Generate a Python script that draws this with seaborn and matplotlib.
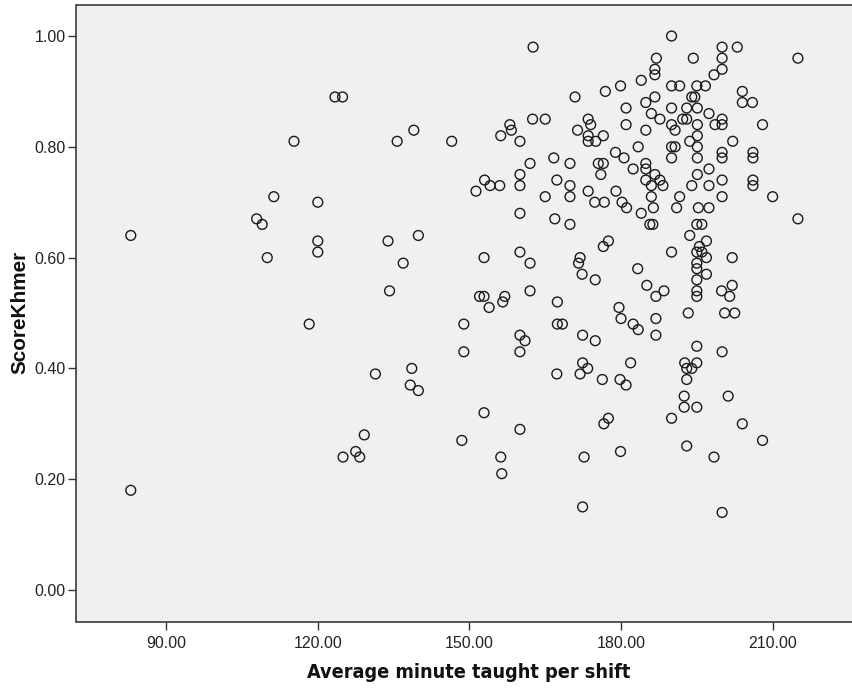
import matplotlib
matplotlib.use("Agg")
import matplotlib.pyplot as plt
from matplotlib import font_manager
import seaborn as sns
import pandas as pd

# Average minute taught per shift (x) and ScoreKhmer (y)
minutes = [
    123.4, 124.9, 115.3, 135.7, 139.0, 111.3, 120.0, 107.9, 109.0, 83.0, 120.0, 120.0, 133.9, 139.9,
    110.0, 136.9, 134.2, 118.3, 131.4, 138.6, 138.3, 139.9, 129.2, 127.5, 125.0, 128.3, 83.0,
    146.5, 162.6, 170.9, 176.9, 179.9, 184.0, 181.0, 181.0, 183.4, 162.5, 165.0, 158.0, 158.3, 156.2,
    160.0, 173.5, 174.0, 171.4, 173.5, 176.5, 173.5, 175.0, 178.9, 180.6, 182.4, 166.7, 169.9, 162.0,
    175.5, 176.5, 176.0, 160.0, 160.0, 153.0, 154.1, 156.0, 151.3, 167.3, 169.9, 169.9, 165.0, 173.5,
    179.0, 174.8, 176.7, 180.2, 181.1, 184.0, 160.0, 166.9,
    169.9, 177.5, 176.5, 152.9, 160.0, 162.0, 171.9, 171.6, 172.3, 174.9, 183.3, 152.0, 152.9, 157.0,
    156.6, 153.9, 162.0, 167.4, 179.6, 180.0, 182.4, 183.4, 148.9, 167.4, 168.4, 172.4, 174.9, 160.0,
    161.0, 148.9, 160.0, 172.4, 173.4, 171.9, 167.3, 176.3, 179.8, 181.0, 181.9, 152.9, 177.5,
    160.0, 148.5, 156.2, 156.4, 176.6, 179.9, 172.7, 172.4,
    190.0, 200.0, 203.0, 215.0, 187.0, 194.3, 200.0, 200.0, 198.4, 186.7, 186.7, 190.0, 191.6, 195.0,
    196.7, 194.0, 194.6, 204.0, 204.0, 206.0, 186.7, 184.9, 190.0, 193.0, 195.1, 186.0, 187.7, 192.2,
    193.0, 197.4, 200.0, 195.1, 198.6, 200.0, 208.0, 190.0, 184.9, 190.7, 195.1, 202.1, 193.6, 190.0,
    190.7, 195.1, 200.0, 200.0, 206.1, 206.1, 195.1, 190.0, 184.9, 184.9, 186.7, 187.7, 184.9, 186.0,
    188.3, 197.4, 195.1, 194.0, 197.4, 200.0, 206.1, 206.1, 210.0, 200.0, 191.6, 186.0, 191.0, 195.3,
    197.4, 186.4, 215.0,
    185.7, 186.3, 195.0, 196.0, 193.6, 196.9, 195.5, 195.0, 196.0, 190.0, 202.0, 196.9, 195.0, 195.0,
    196.9, 195.0, 185.1, 188.5, 186.9, 195.0, 195.0, 202.0, 199.9, 201.5, 193.3, 200.5, 202.5, 186.9,
    186.9, 195.0, 200.0, 192.6, 195.0, 193.0, 194.0, 193.0, 192.5, 201.2, 192.5, 195.0,
    190.0, 204.0, 208.0, 193.0, 198.4, 200.0,
]
score_khmer = [
    0.89, 0.89, 0.81, 0.81, 0.83, 0.71, 0.70, 0.67, 0.66, 0.64, 0.63, 0.61, 0.63, 0.64,
    0.60, 0.59, 0.54, 0.48, 0.39, 0.40, 0.37, 0.36, 0.28, 0.25, 0.24, 0.24, 0.18,
    0.81, 0.98, 0.89, 0.90, 0.91, 0.92, 0.87, 0.84, 0.80, 0.85, 0.85, 0.84, 0.83, 0.82,
    0.81, 0.85, 0.84, 0.83, 0.82, 0.82, 0.81, 0.81, 0.79, 0.78, 0.76, 0.78, 0.77, 0.77,
    0.77, 0.77, 0.75, 0.75, 0.73, 0.74, 0.73, 0.73, 0.72, 0.74, 0.73, 0.71, 0.71, 0.72,
    0.72, 0.70, 0.70, 0.70, 0.69, 0.68, 0.68, 0.67,
    0.66, 0.63, 0.62, 0.60, 0.61, 0.59, 0.60, 0.59, 0.57, 0.56, 0.58, 0.53, 0.53, 0.53,
    0.52, 0.51, 0.54, 0.52, 0.51, 0.49, 0.48, 0.47, 0.48, 0.48, 0.48, 0.46, 0.45, 0.46,
    0.45, 0.43, 0.43, 0.41, 0.40, 0.39, 0.39, 0.38, 0.38, 0.37, 0.41, 0.32, 0.31,
    0.29, 0.27, 0.24, 0.21, 0.30, 0.25, 0.24, 0.15,
    1.00, 0.98, 0.98, 0.96, 0.96, 0.96, 0.96, 0.94, 0.93, 0.94, 0.93, 0.91, 0.91, 0.91,
    0.91, 0.89, 0.89, 0.90, 0.88, 0.88, 0.89, 0.88, 0.87, 0.87, 0.87, 0.86, 0.85, 0.85,
    0.85, 0.86, 0.85, 0.84, 0.84, 0.84, 0.84, 0.84, 0.83, 0.83, 0.82, 0.81, 0.81, 0.80,
    0.80, 0.80, 0.79, 0.78, 0.79, 0.78, 0.78, 0.78, 0.77, 0.76, 0.75, 0.74, 0.74, 0.73,
    0.73, 0.76, 0.75, 0.73, 0.73, 0.74, 0.74, 0.73, 0.71, 0.71, 0.71, 0.71, 0.69, 0.69,
    0.69, 0.69, 0.67,
    0.66, 0.66, 0.66, 0.66, 0.64, 0.63, 0.62, 0.61, 0.61, 0.61, 0.60, 0.60, 0.59, 0.58,
    0.57, 0.56, 0.55, 0.54, 0.53, 0.54, 0.53, 0.55, 0.54, 0.53, 0.50, 0.50, 0.50, 0.49,
    0.46, 0.44, 0.43, 0.41, 0.41, 0.40, 0.40, 0.38, 0.35, 0.35, 0.33, 0.33,
    0.31, 0.30, 0.27, 0.26, 0.24, 0.14,
]
x_ticks = [90, 120, 150, 180, 210]
y_ticks = [0.0, 0.2, 0.4, 0.6, 0.8, 1.0]

df = pd.DataFrame({"Average minute taught per shift": minutes, "ScoreKhmer": score_khmer})

fonts = font_manager.fontManager.ttflist
installed = {f.name for f in fonts}
base_font = "Liberation Sans" if "Liberation Sans" in installed else "DejaVu Sans"
if "Liberation Sans Narrow" in installed:
    narrow_kw = dict(family="Liberation Sans Narrow")
elif any(f.name == "DejaVu Sans" and str(f.stretch) in ("condensed", "semi-condensed") for f in fonts):
    narrow_kw = dict(family="DejaVu Sans", fontstretch="condensed")
else:
    narrow_kw = dict(family=base_font)

sns.set_style("white")
plt.rcParams["font.family"] = [base_font, "DejaVu Sans"]

W, H = 853, 690
fig = plt.figure(figsize=(W / 100, H / 100), dpi=100)
fig.patch.set_facecolor("white")
left_px, right_px, top_px, bottom_px = 76.5, 853, 5, 621.7
ax = fig.add_axes([left_px / W, 1 - bottom_px / H, (right_px - left_px) / W, (bottom_px - top_px) / H])
ax.set_facecolor("#F0F0F0")

sns.scatterplot(data=df, x="Average minute taught per shift", y="ScoreKhmer", ax=ax,
                marker="o", s=50, facecolor="none", edgecolor="#1a1a1a", linewidth=1.0,
                legend=False)

ax.set_xlim(72.26, 225.9)
ax.set_ylim(-0.0572, 1.056)
ax.set_xticks(x_ticks)
ax.set_xticklabels([f"{v:.2f}" for v in x_ticks], fontsize=11.5)
ax.set_yticks(y_ticks)
ax.set_yticklabels([f"{v:.2f}" for v in y_ticks], fontsize=11.5)
ax.tick_params(axis="both", direction="out", length=6, width=1.0, color="#333333",
               labelcolor="#222222", bottom=True, left=True, top=False, right=False)
ax.tick_params(axis="x", pad=4)
ax.tick_params(axis="y", pad=2)

for side in ["left", "bottom", "top"]:
    ax.spines[side].set_visible(True)
    ax.spines[side].set_color("#3a3a3a")
    ax.spines[side].set_linewidth(1.2)
ax.spines["right"].set_visible(False)

xl = ax.set_xlabel("Average minute taught per shift", fontweight="bold",
                   fontsize=16, color="#111111", **narrow_kw)
yl = ax.set_ylabel("ScoreKhmer", fontweight="bold", fontsize=14, color="#111111")

# fit label sizes to the reference extents
fig.canvas.draw()
r = fig.canvas.get_renderer()
wx = xl.get_window_extent(r).width
xl.set_fontsize(16 * 325.0 / wx)
hy = yl.get_window_extent(r).height
yl.set_fontsize(14 * 124.0 / hy)

xl.set_va("center")
yl.set_va("center")
ax.xaxis.set_label_coords((469 - left_px) / (right_px - left_px), (bottom_px - 672) / (bottom_px - top_px))
ax.yaxis.set_label_coords((20 - left_px) / (right_px - left_px), (bottom_px - 312) / (bottom_px - top_px))

fig.savefig("out.png", dpi=100, facecolor="white")
